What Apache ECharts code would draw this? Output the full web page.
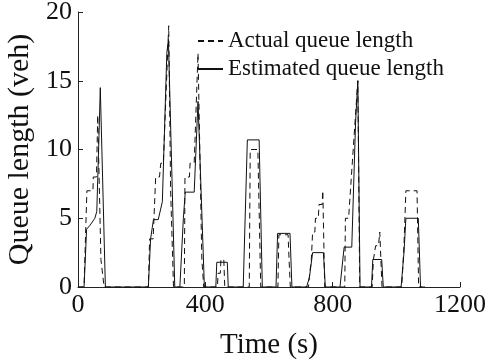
<!DOCTYPE html>
<html>
<head>
<meta charset="utf-8">
<script src="https://cdn.jsdelivr.net/npm/echarts@6/dist/echarts.min.js"></script>
<style>
  html, body { margin: 0; padding: 0; background: #fff; }
  #chart { width: 494px; height: 362px; }
</style>
</head>
<body>
<div id="chart"></div>
<script>
// time (s) and queue length (veh)
var actualTime = [0, 19, 24, 28, 28, 47, 48, 58, 62, 66, 72, 78, 82,
  221, 225, 236, 244, 256, 260, 268, 285, 291, 296, 300,
  334, 336, 350, 352, 365, 377, 389, 395,
  438, 440, 447, 449, 458, 461,
  538, 541, 565, 574,
  628, 631, 660, 663, 667,
  724, 728, 733, 737, 744, 746, 755, 757, 767, 769, 772, 775,
  838, 840, 850, 879, 885,
  924, 928, 935, 944, 948, 952, 955,
  1017, 1024, 1030, 1065, 1070, 1080];
var actualQueue = [0, 0, 4, 4, 7, 7, 8, 8, 12.5, 12.5, 2, 2, 0,
  0, 3.5, 3.5, 8, 8, 9, 9, 19, 7, 7, 0,
  0, 8, 8, 9, 9, 17, 2, 0,
  0, 1, 1, 2, 2, 0,
  0, 10, 10, 0,
  0, 3.8, 3.8, 2, 0,
  0, 1, 2, 4, 4, 5, 5, 6, 6, 7, 7, 0,
  0, 5, 5, 15, 0,
  0, 2, 3, 3, 4, 4, 0,
  0, 3, 7, 7, 0, 0];

var estTime = [0, 19, 27, 38, 53, 59, 66, 70, 74, 86,
  221, 228, 237, 252, 265, 279, 284, 304,
  320, 331, 337, 365, 377, 397,
  433, 436, 469, 472,
  519, 532, 569, 579,
  622, 627, 666, 672,
  718, 727, 737, 771, 777,
  823, 836, 860, 872, 879, 886,
  922, 926, 954, 959,
  1015, 1024, 1030, 1069, 1076, 1090];
var estQueue = [0, 0, 4.2, 4.5, 5, 5.5, 11, 14.5, 14.5, 0,
  0, 3.5, 4.9, 4.9, 6.2, 17, 18, 0,
  0, 5, 6.9, 6.9, 13.5, 0,
  0, 1.8, 1.8, 0,
  0, 10.7, 10.7, 0,
  0, 3.9, 3.9, 0,
  0, 0.7, 2.5, 2.5, 0,
  0, 2.9, 2.9, 12, 15, 0,
  0, 2, 2, 0,
  0, 2.5, 5, 5, 0, 0];

var xTicks = [0, 400, 800, 1200];
var yTicks = [0, 5, 10, 15, 20];

function pairs(t, v) {
  var out = [];
  for (var i = 0; i < t.length; i++) out.push([t[i], v[i]]);
  return out;
}

var font = 'Liberation Serif';
var chart = echarts.init(document.getElementById('chart'));
chart.setOption({
  animation: false,
  textStyle: { fontFamily: font },
  grid: { left: 78, right: 34, top: 12, bottom: 75, outerBoundsMode: 'none', containLabel: false },
  legend: {
    orient: 'vertical',
    left: 192,
    top: 24,
    itemWidth: 25,
    itemHeight: 14,
    itemGap: 4,
    itemStyle: { opacity: 0 },
    textStyle: { fontFamily: font, fontSize: 23, color: '#111', lineHeight: 24 },
    data: ['Actual queue length', 'Estimated queue length']
  },
  xAxis: {
    type: 'value',
    min: xTicks[0],
    max: xTicks[xTicks.length - 1],
    interval: 400,
    name: 'Time (s)',
    nameLocation: 'middle',
    nameGap: 44,
    nameTextStyle: { fontFamily: font, fontSize: 29, color: '#111' },
    axisLine: { lineStyle: { color: '#222', width: 1 } },
    axisTick: { inside: true, length: 5, lineStyle: { color: '#222' } },
    axisLabel: { fontFamily: font, fontSize: 26, color: '#111', margin: 5, formatter: function (v) { return String(v); } },
    splitLine: { show: false }
  },
  yAxis: {
    type: 'value',
    min: yTicks[0],
    max: yTicks[yTicks.length - 1],
    interval: 5,
    name: 'Queue length (veh)',
    nameLocation: 'middle',
    nameGap: 38,
    nameTextStyle: { fontFamily: font, fontSize: 30, color: '#111' },
    axisLine: { show: true, lineStyle: { color: '#222', width: 1 } },
    axisTick: { show: true, inside: true, length: 5, lineStyle: { color: '#222' } },
    axisLabel: { fontFamily: font, fontSize: 26, color: '#111', margin: 6 },
    splitLine: { show: false }
  },
  series: [
    {
      name: 'Actual queue length',
      type: 'line',
      symbol: 'none',
      data: pairs(actualTime, actualQueue),
      lineStyle: { color: '#111', width: 1, type: [6, 4] },
      itemStyle: { color: '#111' }
    },
    {
      name: 'Estimated queue length',
      type: 'line',
      symbol: 'none',
      data: pairs(estTime, estQueue),
      lineStyle: { color: '#111', width: 1 },
      itemStyle: { color: '#111' }
    }
  ]
});
</script>
</body>
</html>
